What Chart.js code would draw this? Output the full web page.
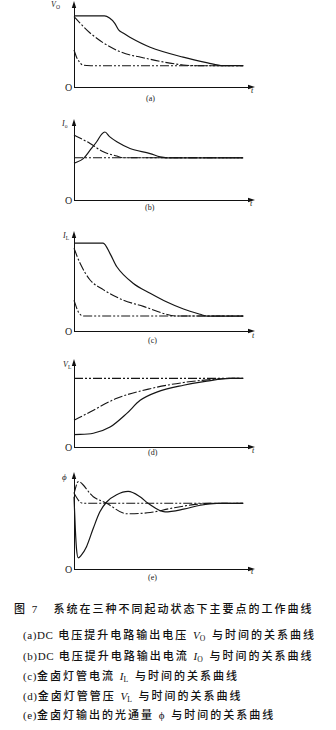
<!DOCTYPE html>
<html><head><meta charset="utf-8">
<script src="https://cdn.jsdelivr.net/npm/chart.js@4"></script>
<style>
html,body{margin:0;padding:0;background:#fff;}
body{width:336px;height:730px;position:relative;overflow:hidden;}
canvas{position:absolute;}
.l{position:absolute;font-family:"Liberation Serif","DejaVu Serif",serif;color:#222;line-height:1;white-space:nowrap;}
.it{font-style:italic;}
.l sub{font-size:70%;vertical-align:-2px;font-style:normal;}
.cap{position:absolute;font-family:"Liberation Serif","Noto Sans CJK SC",serif;font-size:11px;letter-spacing:2px;color:#111;white-space:nowrap;line-height:1;font-weight:500;}
.cap i{font-style:italic;letter-spacing:0;}
.cap .la{letter-spacing:0.6px;}
.cap sub{font-size:70%;vertical-align:-2px;}
</style></head><body>

<!-- axis labels -->
<div class="l it" style="left:51px;top:1px;font-size:8px;">V<sub>O</sub></div>
<div class="l" style="left:65px;top:83px;font-size:10px;">O</div>
<div class="l it" style="left:251px;top:87px;font-size:8px;">t</div>
<div class="l" style="left:146px;top:95px;font-size:8px;">(a)</div>

<div class="l it" style="left:62px;top:120px;font-size:8px;">I<sub>o</sub></div>
<div class="l" style="left:65px;top:196px;font-size:10px;">O</div>
<div class="l it" style="left:250px;top:200px;font-size:8px;">t</div>
<div class="l" style="left:145px;top:204px;font-size:8px;">(b)</div>

<div class="l it" style="left:63px;top:232px;font-size:8px;">I<sub>L</sub></div>
<div class="l" style="left:65px;top:327px;font-size:10px;">O</div>
<div class="l it" style="left:252px;top:332px;font-size:8px;">t</div>
<div class="l" style="left:148px;top:337px;font-size:8px;">(c)</div>

<div class="l it" style="left:63px;top:361px;font-size:8px;">V<sub>L</sub></div>
<div class="l" style="left:65px;top:443px;font-size:10px;">O</div>
<div class="l it" style="left:252px;top:447px;font-size:8px;">t</div>
<div class="l" style="left:148px;top:449px;font-size:8px;">(d)</div>

<div class="l it" style="left:62px;top:473px;font-size:9px;">ϕ</div>
<div class="l" style="left:65px;top:565px;font-size:10px;">O</div>
<div class="l it" style="left:251px;top:568px;font-size:8px;">t</div>
<div class="l" style="left:148px;top:574px;font-size:8px;">(e)</div>

<!-- caption -->
<div class="cap" style="left:14px;top:604px;">图 7&nbsp;&nbsp;&nbsp;系统在三种不同起动状态下主要点的工作曲线</div>
<div class="cap" style="left:23px;top:630px;"><span class="la">(a)DC</span> 电压提升电路输出电压 <i>V</i><sub>O</sub> 与时间的关系曲线</div>
<div class="cap" style="left:23px;top:651px;"><span class="la">(b)DC</span> 电压提升电路输出电流 <i>I</i><sub>O</sub> 与时间的关系曲线</div>
<div class="cap" style="left:23px;top:671px;"><span class="la">(c)</span>金卤灯管电流 <i>I</i><sub>L</sub> 与时间的关系曲线</div>
<div class="cap" style="left:23px;top:691px;"><span class="la">(d)</span>金卤灯管管压 <i>V</i><sub>L</sub> 与时间的关系曲线</div>
<div class="cap" style="left:23px;top:710px;"><span class="la">(e)</span>金卤灯输出的光通量 ϕ 与时间的关系曲线</div>

<script>
// ---------- data (time in arbitrary units, value in arbitrary units) ----------
// (a) Vo
const aSolidX = [0, 1.8, 2.1, 2.4, 2.65, 2.9, 3.3, 4.5, 6.45, 7.9, 8.8, 10];
const aSolidY = [1.0, 1.0, 0.97, 0.9, 0.8, 0.76, 0.7, 0.56, 0.42, 0.34, 0.3, 0.3];
const aDashX  = [0, 0.95, 2.5, 4.5, 6.45, 7.3, 10];
const aDashY  = [0.99, 0.76, 0.52, 0.39, 0.31, 0.3, 0.3];
const aDotX   = [0, 0.15, 0.3, 0.5, 1.0, 10];
const aDotY   = [0.52, 0.42, 0.36, 0.31, 0.3, 0.3];
// (b) Io
const bSolidX = [0, 0.55, 0.95, 1.34, 1.64, 1.83, 2.1, 2.53, 3.31, 4.5, 5.09, 5.5, 10];
const bSolidY = [0.87, 0.98, 1.18, 1.38, 1.56, 1.61, 1.5, 1.38, 1.22, 1.1, 1.02, 1.0, 1.0];
const bDashX  = [0, 0.95, 1.73, 2.53, 2.9, 10];
const bDashY  = [1.54, 1.34, 1.14, 1.04, 1.0, 1.0];
const bDotX   = [0, 10];
const bDotY   = [1.0, 1.0];
// (c) IL
const cSolidX = [0, 1.72, 2.13, 2.53, 3.51, 4.5, 5.49, 6.47, 7.46, 7.85, 10];
const cSolidY = [1.0, 1.0, 0.88, 0.73, 0.54, 0.43, 0.33, 0.25, 0.19, 0.17, 0.17];
const cDashX  = [0, 0.36, 0.95, 1.73, 2.92, 4.1, 5.28, 6.08, 10];
const cDashY  = [0.94, 0.77, 0.58, 0.47, 0.35, 0.28, 0.2, 0.17, 0.17];
const cDotX   = [0, 0.25, 0.55, 10];
const cDotY   = [0.35, 0.22, 0.17, 0.17];
// (d) VL
const dSolidX = [0, 1.14, 2.13, 3.12, 3.91, 4.89, 6.47, 7.85, 9.23, 10];
const dSolidY = [0.18, 0.2, 0.29, 0.49, 0.68, 0.8, 0.9, 0.96, 1.0, 1.0];
const dDashX  = [0, 0.95, 2.53, 4.5, 6.47, 8.44, 9.23, 10];
const dDashY  = [0.39, 0.51, 0.71, 0.85, 0.94, 0.99, 1.0, 1.0];
const dDotX   = [0, 10];
const dDotY   = [1.0, 1.0];
// (e) phi
const eSolidX = [0, 0.08, 0.15, 0.25, 0.4, 0.74, 1.14, 1.53, 1.93, 2.52, 3.2, 3.9, 4.38, 5.38, 6.47, 7.46, 8.44, 10];
const eSolidY = [1.1, 0.6, 0.3, 0.17, 0.2, 0.34, 0.62, 0.87, 1.02, 1.13, 1.18, 1.1, 1.0, 0.87, 0.91, 0.97, 1.0, 1.0];
const eDashX  = [0, 0.25, 0.95, 1.14, 1.93, 3.12, 4.5, 5.68, 7.06, 8.05, 10];
const eDashY  = [1.15, 1.33, 1.15, 1.1, 1.0, 0.84, 0.86, 0.92, 0.98, 1.0, 1.0];
const eDotX   = [0, 0.35, 0.6, 10];
const eDotY   = [1.15, 1.02, 1.0, 1.0];

// ---------- drawing ----------
const X_MAX = 10.4;
const STYLE = {
  solid: [],
  dash: [9, 2, 2, 2],
  dot: [9, 2, 2, 2, 2, 2]
};
const pts = (xs, ys) => xs.map((x, i) => ({x, y: ys[i]}));

const arrowPlugin = {
  id: 'arrows',
  afterDraw(chart) {
    const {ctx, chartArea: {left, top, right, bottom}} = chart;
    ctx.save();
    ctx.fillStyle = '#111';
    ctx.beginPath();
    ctx.moveTo(left, top - 5);
    ctx.lineTo(left - 2.2, top + 2);
    ctx.lineTo(left + 2.2, top + 2);
    ctx.closePath(); ctx.fill();
    ctx.beginPath();
    ctx.moveTo(right + 5, bottom);
    ctx.lineTo(right - 2, bottom - 2.2);
    ctx.lineTo(right - 2, bottom + 2.2);
    ctx.closePath(); ctx.fill();
    ctx.restore();
  }
};

const PANELS = [
  {top: 6,   bottom: 87,  yMax: 1.14, sets: [[aSolidX, aSolidY, 'solid'], [aDashX, aDashY, 'dash'], [aDotX, aDotY, 'dot']]},
  {top: 124, bottom: 200, yMax: 1.80, sets: [[bSolidX, bSolidY, 'solid'], [bDashX, bDashY, 'dash'], [bDotX, bDotY, 'dot']]},
  {top: 236, bottom: 331, yMax: 1.08, sets: [[cSolidX, cSolidY, 'solid'], [cDashX, cDashY, 'dash'], [cDotX, cDotY, 'dot']]},
  {top: 364, bottom: 447, yMax: 1.21, sets: [[dSolidX, dSolidY, 'solid'], [dDashX, dDashY, 'dash'], [dDotX, dDotY, 'dot']]},
  {top: 477, bottom: 569, yMax: 1.40, sets: [[eSolidX, eSolidY, 'solid'], [eDashX, eDashY, 'dash'], [eDotX, eDotY, 'dot']]}
];

const PAD = 12, LEFT = 74, RIGHT = 250;
PANELS.forEach(p => {
  const cv = document.createElement('canvas');
  const w = RIGHT - LEFT + 2 * PAD, h = p.bottom - p.top + 2 * PAD;
  cv.width = w; cv.height = h;
  cv.style.left = (LEFT - PAD) + 'px';
  cv.style.top = (p.top - PAD) + 'px';
  cv.style.width = w + 'px'; cv.style.height = h + 'px';
  document.body.appendChild(cv);
  new Chart(cv, {
    type: 'line',
    data: {
      datasets: p.sets.map(([xs, ys, st]) => ({
        data: pts(xs, ys),
        borderColor: '#151515',
        borderWidth: st === 'solid' ? 1.2 : 1.1,
        borderDash: STYLE[st],
        pointRadius: 0,
        cubicInterpolationMode: 'monotone',
        fill: false,
        clip: false
      }))
    },
    options: {
      responsive: false,
      animation: false,
      devicePixelRatio: 1,
      layout: {padding: PAD},
      plugins: {legend: {display: false}, tooltip: {enabled: false}},
      scales: {
        x: {type: 'linear', min: 0, max: X_MAX,
            ticks: {display: false}, grid: {display: false, drawTicks: false},
            border: {display: true, color: '#111', width: 1}},
        y: {type: 'linear', min: 0, max: p.yMax,
            ticks: {display: false}, grid: {display: false, drawTicks: false},
            border: {display: true, color: '#111', width: 1}}
      }
    },
    plugins: [arrowPlugin]
  });
});
</script>
</body></html>
